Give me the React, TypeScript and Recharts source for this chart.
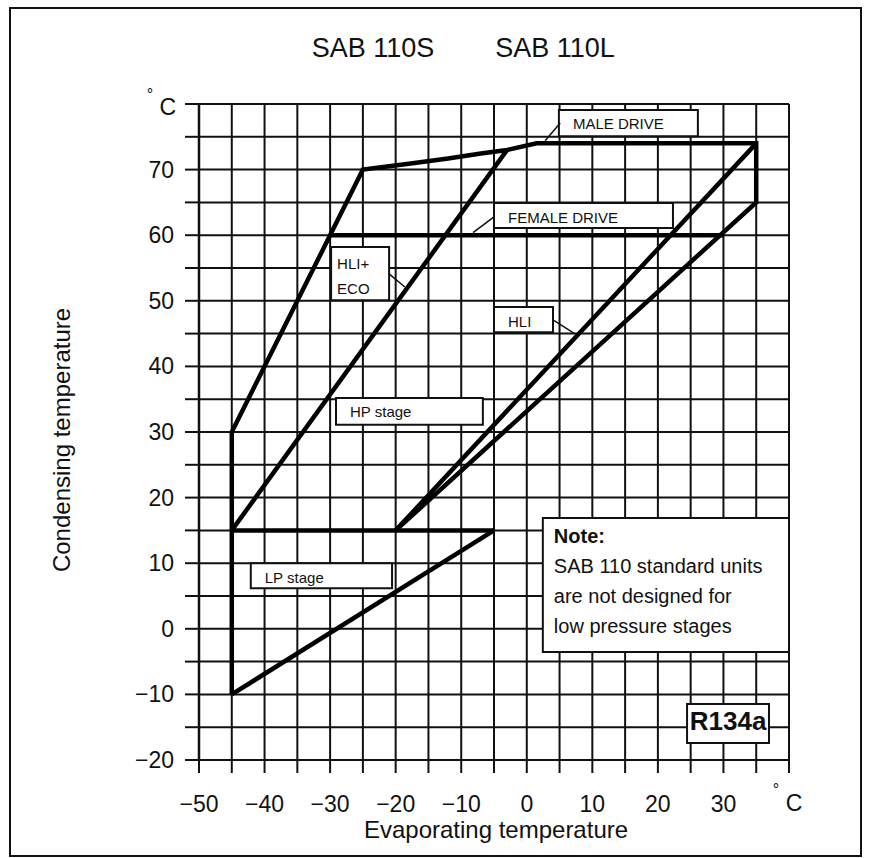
import React from 'react';
import { LineChart, Line, XAxis, YAxis, CartesianGrid, ReferenceArea, ReferenceLine } from 'recharts';

const FONT = '"Liberation Sans", Arial, Helvetica, sans-serif';

// axis ticks (grid every 5 °C, labels every 10 °C)
const xTicks = [-50, -45, -40, -35, -30, -25, -20, -15, -10, -5, 0, 5, 10, 15, 20, 25, 30, 35, 40];
const yTicks = [-20, -15, -10, -5, 0, 5, 10, 15, 20, 25, 30, 35, 40, 45, 50, 55, 60, 65, 70, 75, 80];
const xLabeled = [-50, -40, -30, -20, -10, 0, 10, 20, 30];
const yLabeled = [-20, -10, 0, 10, 20, 30, 40, 50, 60, 70];
const unitDeg = '°';
const unitC = 'C';

const titleLeft = 'SAB 110S';
const titleRight = 'SAB 110L';
const xTitle = 'Evaporating temperature';
const yTitle = 'Condensing temperature';

// envelope lines (evaporating °C, condensing °C)
const hpEnvelope = [
  { x: -45, y: -10 }, { x: -45, y: 30 }, { x: -25, y: 70 }, { x: -18, y: 70.9 }, { x: -12, y: 71.7 },
  { x: -7, y: 72.45 }, { x: -3, y: 73 }, { x: 1.5, y: 74 }, { x: 35, y: 74 }, { x: 35, y: 65 }, { x: -20, y: 15 },
];
const hliUpper = [{ x: -20, y: 15 }, { x: 35, y: 74 }];
const line15 = [{ x: -45, y: 15 }, { x: -5, y: 15 }];
const lpLine = [{ x: -45, y: -10 }, { x: -5, y: 15 }];
const hliEco = [{ x: -45, y: 15 }, { x: -3, y: 73 }];
const femaleDrive = [{ x: -30, y: 60 }, { x: 30, y: 60 }];

const seriesList = [hpEnvelope, hliUpper, line15, lpLine, hliEco, femaleDrive];

// annotation boxes in data coordinates
const annotations = [
  { id: 'male', lines: ['MALE DRIVE'], x1: 4.9, x2: 26.1, y1: 75.1, y2: 79.1, leader: [{ x: 5.1, y: 77.1 }, { x: 2.8, y: 74.4 }] },
  { id: 'female', lines: ['FEMALE DRIVE'], x1: -5.0, x2: 22.3, y1: 61.1, y2: 64.9, leader: [{ x: -5.0, y: 62.8 }, { x: -8.2, y: 60.4 }] },
  { id: 'hlieco', lines: ['HLI+', 'ECO'], x1: -29.85, x2: -21.0, y1: 50.1, y2: 58.2, leader: [{ x: -21.0, y: 54.1 }, { x: -18.6, y: 52.1 }] },
  { id: 'hli', lines: ['HLI'], x1: -5.0, x2: 4.0, y1: 45.2, y2: 49.05, leader: [{ x: 4.0, y: 47.1 }, { x: 7.3, y: 45.0 }] },
  { id: 'hp', lines: ['HP stage'], x1: -29.1, x2: -6.7, y1: 31.1, y2: 35.2 },
  { id: 'lp', lines: ['LP stage'], x1: -42.1, x2: -20.55, y1: 6.2, y2: 10.0 },
  { id: 'note', lines: ['Note:', 'SAB 110 standard units', 'are not designed for', 'low pressure stages'], x1: 2.45, x2: 40, y1: -3.55, y2: 16.9 },
  { id: 'ref', lines: ['R134a'], x1: 24.45, x2: 36.95, y1: -17.4, y2: -11.45 },
];

type BoxStyle = { fs: number; pad: number; first: number; gap: number; bold?: boolean; firstBold?: boolean; center?: boolean };
const boxStyles: Record<string, BoxStyle> = {
  male: { fs: 15, pad: 14, first: 19.5, gap: 0 },
  female: { fs: 15, pad: 14, first: 19.5, gap: 0 },
  hlieco: { fs: 15, pad: 6, first: 21.5, gap: 25 },
  hli: { fs: 15, pad: 14, first: 19.5, gap: 0 },
  hp: { fs: 15, pad: 14, first: 19.5, gap: 0 },
  lp: { fs: 15, pad: 14, first: 19.5, gap: 0 },
  note: { fs: 20, pad: 11, first: 25, gap: 30, firstBold: true },
  ref: { fs: 26, pad: 0, first: 26.5, gap: 0, bold: true, center: true },
};

const fmt = (v: number) => (v < 0 ? '\u2212' + Math.abs(v) : String(v));

const XTick = (props: any) => {
  const { x, y, payload } = props;
  const v = payload.value;
  if (v === 40) {
    return (
      <g>
        <text x={x - 13} y={y} fontSize={16} textAnchor="middle" fontFamily={FONT} fill="#111">{unitDeg}</text>
        <text x={x + 5} y={y + 16} fontSize={23} textAnchor="middle" fontFamily={FONT} fill="#111">{unitC}</text>
      </g>
    );
  }
  if (!xLabeled.includes(v)) return <g />;
  return (
    <text x={x} y={y + 17} fontSize={23} textAnchor="middle" fontFamily={FONT} fill="#111">{fmt(v)}</text>
  );
};

const YTick = (props: any) => {
  const { x, y, payload } = props;
  const v = payload.value;
  if (v === 80) {
    return (
      <g>
        <text x={x - 24} y={y - 4} fontSize={16} textAnchor="middle" fontFamily={FONT} fill="#111">{unitDeg}</text>
        <text x={x + 2} y={y + 11} fontSize={23} textAnchor="end" fontFamily={FONT} fill="#111">{unitC}</text>
      </g>
    );
  }
  if (!yLabeled.includes(v)) return <g />;
  return (
    <text x={x} y={y + 8} fontSize={23} textAnchor="end" fontFamily={FONT} fill="#111">{fmt(v)}</text>
  );
};

const XTitle = (props: any) => {
  const vb = props.viewBox;
  if (!vb) return null;
  return (
    <text x={vb.x + vb.width / 2 + 2} y={vb.y + 78} fontSize={24} textAnchor="middle" fontFamily={FONT} fill="#111">{xTitle}</text>
  );
};

const YTitle = (props: any) => {
  const vb = props.viewBox;
  if (!vb) return null;
  const cx = 70;
  const cy = vb.y + vb.height / 2 + 8;
  return (
    <text x={cx} y={cy} fontSize={24} textAnchor="middle" fontFamily={FONT} fill="#111" transform={`rotate(-90 ${cx} ${cy})`}>{yTitle}</text>
  );
};

const BoxLabel = (props: any) => {
  const { viewBox, ann } = props;
  if (!viewBox || !ann) return null;
  const st = boxStyles[ann.id];
  const { x, y, width } = viewBox;
  return (
    <g>
      {ann.lines.map((t: string, i: number) => (
        <text
          key={i}
          x={st.center ? x + width / 2 : x + st.pad}
          y={y + st.first + st.gap * i}
          fontSize={st.fs}
          fontWeight={st.bold || (st.firstBold && i === 0) ? 'bold' : 'normal'}
          textAnchor={st.center ? 'middle' : 'start'}
          fontFamily={FONT}
          fill="#111"
        >
          {t}
        </text>
      ))}
    </g>
  );
};

export default function App() {
  const yAxisWidth = 179;
  const xAxisHeight = 80;
  return (
    <div style={{ position: 'absolute', left: 0, top: 0, width: 869, height: 858, background: '#fff', fontFamily: FONT }}>
      <div style={{ position: 'absolute', left: 9, top: 7, width: 849, height: 846, border: '2px solid #111' }} />
      <div style={{ position: 'absolute', left: 373, top: 33, transform: 'translateX(-50%)', fontSize: 27, color: '#111', whiteSpace: 'nowrap' }}>{titleLeft}</div>
      <div style={{ position: 'absolute', left: 555, top: 33, transform: 'translateX(-50%)', fontSize: 27, color: '#111', whiteSpace: 'nowrap' }}>{titleRight}</div>
      <div style={{ position: 'absolute', left: 0, top: 0 }}>
        <LineChart width={869} height={858} margin={{ top: 104, right: 80, left: 199 - yAxisWidth, bottom: 858 - 760 - xAxisHeight }}>
          <CartesianGrid stroke="#111" strokeWidth={2} />
          <XAxis
            type="number"
            dataKey="x"
            domain={[-50, 40]}
            ticks={xTicks}
            interval={0}
            allowDataOverflow
            height={xAxisHeight}
            tickSize={13}
            tickMargin={22}
            axisLine={{ stroke: '#111', strokeWidth: 2 }}
            tickLine={{ stroke: '#111', strokeWidth: 2 }}
            tick={<XTick />}
            label={<XTitle />}
          />
          <YAxis
            type="number"
            dataKey="y"
            domain={[-20, 80]}
            ticks={yTicks}
            interval={0}
            allowDataOverflow
            width={yAxisWidth}
            tickSize={14}
            tickMargin={11}
            axisLine={{ stroke: '#111', strokeWidth: 2.5 }}
            tickLine={{ stroke: '#111', strokeWidth: 2 }}
            tick={<YTick />}
            label={<YTitle />}
          />
          {seriesList.map((d, i) => (
            <Line
              key={i}
              data={d}
              dataKey="y"
              type="linear"
              stroke="#000"
              strokeWidth={4.5}
              strokeLinejoin="miter"
              dot={false}
              activeDot={false}
              isAnimationActive={false}
            />
          ))}
          {annotations.map((a) => (
            <ReferenceArea
              key={a.id}
              x1={a.x1}
              x2={a.x2}
              y1={a.y1}
              y2={a.y2}
              fill="#fff"
              fillOpacity={1}
              stroke="#111"
              strokeWidth={2}
              label={<BoxLabel ann={a} />}
            />
          ))}
          {annotations.filter((a) => a.leader).map((a) => (
            <ReferenceLine
              key={'l' + a.id}
              segment={a.leader as any}
              stroke="#111"
              strokeWidth={1.5}
            />
          ))}
        </LineChart>
      </div>
    </div>
  );
}
